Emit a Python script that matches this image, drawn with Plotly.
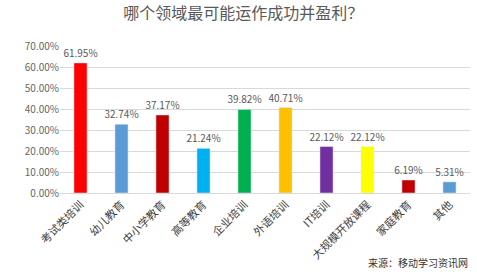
import plotly.graph_objects as go

categories = ["考试类培训", "幼儿教育", "中小学教育", "高等教育", "企业培训",
              "外语培训", "IT培训", "大规模开放课程", "家庭教育", "其他"]
values = [0.6195, 0.3274, 0.3717, 0.2124, 0.3982, 0.4071, 0.2212, 0.2212, 0.0619, 0.0531]
colors = ["#FF0000", "#5B9BD5", "#C00000", "#00B0F0", "#00B050",
          "#FFC000", "#7030A0", "#FFFF00", "#C00000", "#5B9BD5"]
y_ticks = [0, 0.1, 0.2, 0.3, 0.4, 0.5, 0.6, 0.7]

fig = go.Figure(go.Bar(
    x=categories, y=values, marker_color=colors,
    text=[f"{v*100:.2f}%" for v in values], textposition="outside",
    constraintext="none",
    textfont=dict(size=10, color="#595959"), cliponaxis=False,
))
fig.update_layout(
    width=477, height=274,
    margin=dict(l=60, r=7, t=46, b=81),
    paper_bgcolor="white", plot_bgcolor="white",
    bargap=0.68,
    showlegend=False,
    font=dict(family="Noto Sans CJK SC, sans-serif"),
    title=dict(text="哪个领域最可能运作成功并盈利？", x=0.51, xanchor="center",
               y=0.95, yanchor="middle",
               font=dict(size=16, color="#595959", family="Noto Sans CJK SC")),
    annotations=[dict(text="来源：移动学习资讯网", xref="paper", yref="paper",
                      x=1.0, y=-0.47, xanchor="right", yanchor="middle",
                      showarrow=False, font=dict(size=10, color="#333333"))],
)
fig.update_yaxes(range=[0, 0.7], tickvals=y_ticks, tickformat=".2%",
                 showgrid=True, gridcolor="#D9D9D9", zeroline=False,
                 tickfont=dict(size=10, color="#666666"), ticks="", showline=False)
fig.update_xaxes(tickangle=-45, tickfont=dict(size=11, color="#404040"),
                 showline=True, linecolor="#D9D9D9", ticks="")
fig.write_html("out.html")
